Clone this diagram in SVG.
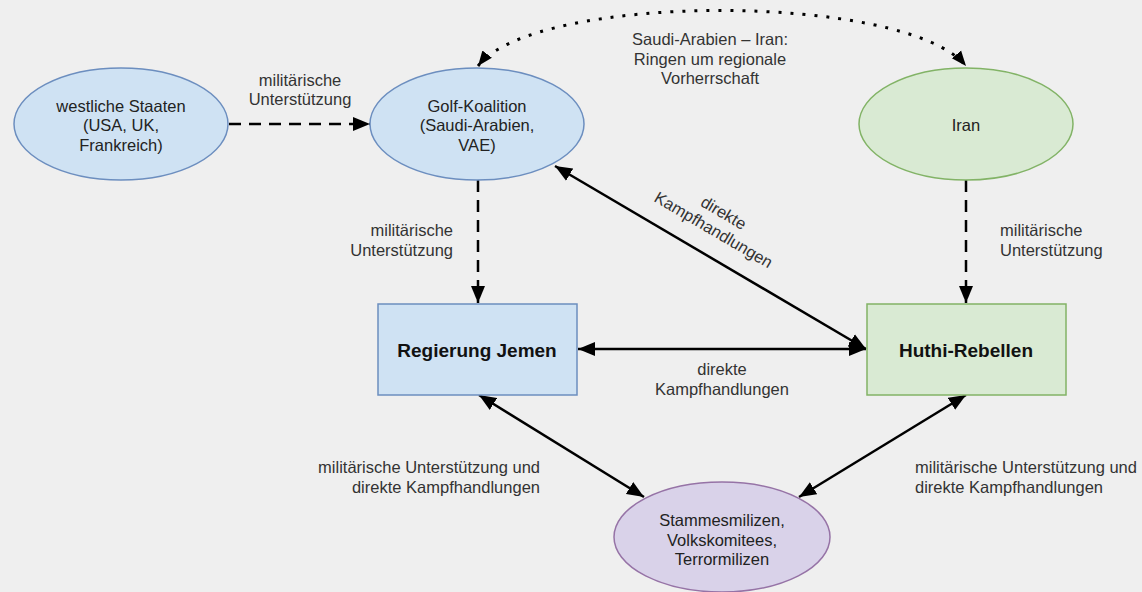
<svg xmlns="http://www.w3.org/2000/svg" width="1142" height="592" viewBox="0 0 1142 592">
<defs>
<style>
.t{font-family:"Liberation Sans",Arial,sans-serif;font-size:16.5px;fill:#222;text-anchor:middle}
.l{font-family:"Liberation Sans",Arial,sans-serif;font-size:16.5px;fill:#333}
.b{font-family:"Liberation Sans",Arial,sans-serif;font-size:19px;font-weight:bold;fill:#111;text-anchor:middle}
.blue{fill:#cfe2f3;stroke:#6c8ebf;stroke-width:1.5}
.green{fill:#d9ead3;stroke:#82b366;stroke-width:1.5}
.purple{fill:#d9d2e9;stroke:#9673a6;stroke-width:1.5}
.e{fill:none;stroke:#000;stroke-width:2.5}
.dash{stroke-dasharray:12 8}
.dot{stroke-dasharray:3 9;stroke-width:3}
</style>
<marker id="ah" markerUnits="userSpaceOnUse" markerWidth="18" markerHeight="16" refX="17" refY="7" orient="auto-start-reverse" viewBox="0 0 18 14">
<path d="M0,0 L17,7 L0,14 Z" fill="#000"/>
</marker>
<marker id="ahs" markerUnits="userSpaceOnUse" markerWidth="16" markerHeight="14" refX="15" refY="6" orient="auto-start-reverse" viewBox="0 0 16 12">
<path d="M0,0 L15,6 L0,12 Z" fill="#000"/>
</marker>
</defs>
<rect width="1142" height="592" fill="#efefef"/>
<g id="connectors">
<path class="e dot" d="M478,66 C535,-8 905,-8 966,66" marker-start="url(#ahs)" marker-end="url(#ahs)"/>
<path class="e dash" d="M229,124 L370,124" marker-end="url(#ah)"/>
<path class="e dash" d="M478,180 L478,303" marker-end="url(#ah)"/>
<path class="e dash" d="M966,180 L966,303" marker-end="url(#ah)"/>
<path class="e" d="M555,166 L866,349" marker-start="url(#ah)" marker-end="url(#ah)"/>
<path class="e" d="M578,349 L866,349" stroke-width="3" marker-start="url(#ah)" marker-end="url(#ah)"/>
<path class="e" d="M479,395 L644,497" marker-start="url(#ah)" marker-end="url(#ah)"/>
<path class="e" d="M966,395 L799,497" marker-start="url(#ah)" marker-end="url(#ah)"/>
<text class="l" text-anchor="middle"><tspan x="300" y="86">militärische</tspan><tspan x="300" y="105">Unterstützung</tspan></text>
<text class="l" text-anchor="end"><tspan x="453" y="236">militärische</tspan><tspan x="453" y="256">Unterstützung</tspan></text>
<text class="l" text-anchor="start"><tspan x="1000" y="236">militärische</tspan><tspan x="1000" y="256">Unterstützung</tspan></text>
<text class="l" text-anchor="middle"><tspan x="710" y="45">Saudi-Arabien – Iran:</tspan><tspan x="710" y="65">Ringen um regionale</tspan><tspan x="710" y="84">Vorherrschaft</tspan></text>
<text class="l" text-anchor="middle"><tspan x="722" y="375">direkte</tspan><tspan x="722" y="395">Kampfhandlungen</tspan></text>
<g transform="translate(718.5,221.5) rotate(30.5)"><text class="l" text-anchor="middle"><tspan x="0" y="-4.4">direkte</tspan><tspan x="0" y="15.4">Kampfhandlungen</tspan></text></g>
<text class="l" text-anchor="end"><tspan x="540" y="473">militärische Unterstützung und</tspan><tspan x="540" y="493">direkte Kampfhandlungen</tspan></text>
<text class="l" text-anchor="start"><tspan x="915" y="473">militärische Unterstützung und</tspan><tspan x="915" y="493">direkte Kampfhandlungen</tspan></text>
</g>
<g id="westliche">
<ellipse class="blue" cx="121" cy="124" rx="107" ry="56"/>
<text class="t"><tspan x="121" y="112">westliche Staaten</tspan><tspan x="121" y="131">(USA, UK,</tspan><tspan x="121" y="151">Frankreich)</tspan></text>
</g>
<g id="golf">
<ellipse class="blue" cx="477" cy="124" rx="107" ry="56"/>
<text class="t"><tspan x="477" y="112">Golf-Koalition</tspan><tspan x="477" y="131">(Saudi-Arabien,</tspan><tspan x="477" y="151">VAE)</tspan></text>
</g>
<g id="iran">
<ellipse class="green" cx="966" cy="124" rx="107" ry="56"/>
<text class="t" x="966" y="131">Iran</text>
</g>
<g id="regierung">
<rect class="blue" x="378" y="304" width="199" height="91"/>
<text class="b" x="477" y="357">Regierung Jemen</text>
</g>
<g id="huthi">
<rect class="green" x="867" y="304" width="199" height="91"/>
<text class="b" x="966" y="357">Huthi-Rebellen</text>
</g>
<g id="stammes">
<ellipse class="purple" cx="722" cy="537" rx="108" ry="55"/>
<text class="t"><tspan x="722" y="526">Stammesmilizen,</tspan><tspan x="722" y="546">Volkskomitees,</tspan><tspan x="722" y="565">Terrormilizen</tspan></text>
</g>
</svg>
